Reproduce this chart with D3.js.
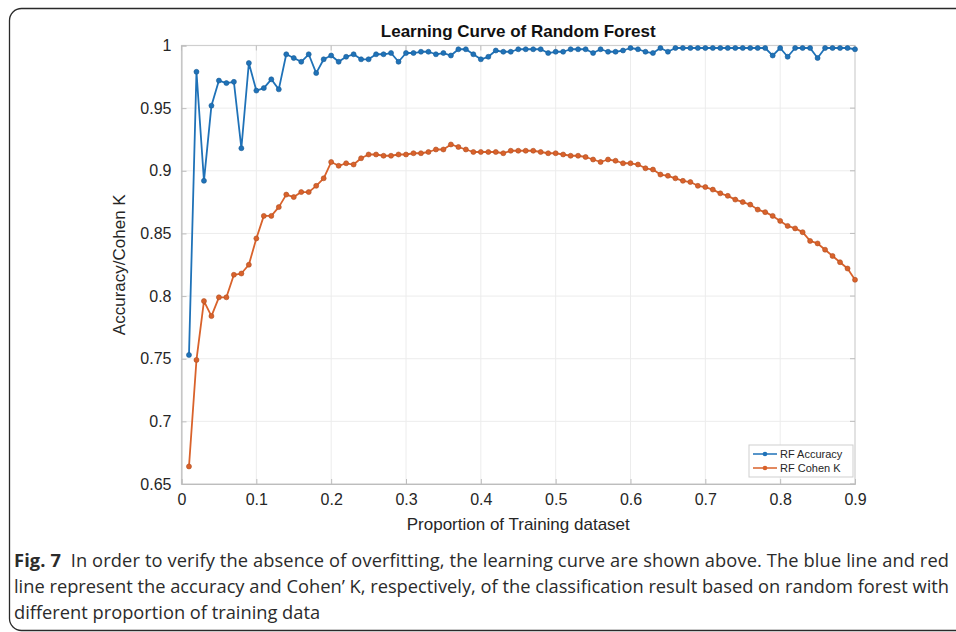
<!DOCTYPE html>
<html>
<head>
<meta charset="utf-8">
<script src="https://cdn.jsdelivr.net/npm/d3@7"></script>
<style>
html,body{margin:0;padding:0;background:#fff;}
svg{display:block;}
</style>
</head>
<body>
<svg id="chart" width="956" height="632"></svg>
<script>
const proportions = d3.range(1, 91).map(i => +(i / 100).toFixed(2));
const rfAccuracy = [
 0.753,0.979,0.892,0.952,0.972,0.970,0.971,0.918,0.986,0.964,
 0.966,0.973,0.965,0.993,0.990,0.987,0.993,0.978,0.989,0.992,
 0.987,0.991,0.993,0.989,0.989,0.993,0.993,0.994,0.987,0.994,
 0.994,0.995,0.995,0.993,0.994,0.992,0.997,0.997,0.993,0.989,
 0.991,0.996,0.995,0.995,0.997,0.997,0.997,0.997,0.994,0.995,
 0.995,0.997,0.997,0.997,0.994,0.997,0.995,0.995,0.996,0.998,
 0.997,0.995,0.994,0.998,0.995,0.998,0.998,0.998,0.998,0.998,
 0.998,0.998,0.998,0.998,0.998,0.998,0.998,0.998,0.992,0.998,
 0.991,0.998,0.998,0.998,0.990,0.998,0.998,0.998,0.998,0.997
];
const rfCohenK = [
 0.664,0.749,0.796,0.784,0.799,0.799,0.817,0.818,0.825,0.846,
 0.864,0.864,0.871,0.881,0.879,0.883,0.883,0.888,0.894,0.907,
 0.904,0.906,0.905,0.910,0.913,0.913,0.912,0.912,0.913,0.913,
 0.914,0.914,0.915,0.917,0.917,0.921,0.919,0.917,0.915,0.915,
 0.915,0.915,0.914,0.916,0.916,0.916,0.916,0.915,0.914,0.914,
 0.913,0.912,0.912,0.911,0.909,0.907,0.909,0.908,0.906,0.906,
 0.905,0.902,0.901,0.897,0.896,0.894,0.892,0.891,0.888,0.887,
 0.885,0.882,0.880,0.877,0.875,0.873,0.869,0.867,0.864,0.860,
 0.856,0.854,0.851,0.844,0.842,0.837,0.832,0.827,0.822,0.813
];
const xTicks = [0,0.1,0.2,0.3,0.4,0.5,0.6,0.7,0.8,0.9];
const yTicks = [0.65,0.7,0.75,0.8,0.85,0.9,0.95,1];
const seriesNames = ["RF Accuracy","RF Cohen K"];
const seriesColors = ["#1f72b8","#d9622b"];
const titleText = "Learning Curve of Random Forest";
const xLabel = "Proportion of Training dataset";
const yLabel = "Accuracy/Cohen K";
const captionLines = [
 ["Fig. 7", "  In order to verify the absence of overfitting, the learning curve are shown above. The blue line and red"],
 ["", "line represent the accuracy and Cohen\u2019 K, respectively, of the classification result based on random forest with"],
 ["", "different proportion of training data"]
];

const svg = d3.select("#chart");
const font = "'Liberation Sans', Arial, Helvetica, sans-serif";

// outer frame
svg.append("rect").attr("x",9.5).attr("y",8.5).attr("width",980).attr("height",622)
  .attr("rx",12).attr("ry",12).attr("fill","none").attr("stroke","#2a2a2a").attr("stroke-width",1.3);

const L = 181.5, R = 855, T = 45.5, B = 484;
const x = d3.scaleLinear().domain([0,0.9]).range([L,R]);
const y = d3.scaleLinear().domain([0.65,1]).range([B,T]);

const g = svg.append("g");
// grid
g.selectAll(".gx").data(xTicks.slice(1,-1)).join("line")
  .attr("x1",d=>x(d)).attr("x2",d=>x(d)).attr("y1",T).attr("y2",B)
  .attr("stroke","#ececec").attr("stroke-width",1);
g.selectAll(".gy").data(yTicks.slice(1,-1)).join("line")
  .attr("x1",L).attr("x2",R).attr("y1",d=>y(d)).attr("y2",d=>y(d))
  .attr("stroke","#ececec").attr("stroke-width",1);

// box
g.append("rect").attr("x",L).attr("y",T).attr("width",R-L).attr("height",B-T)
  .attr("fill","none").attr("stroke","#cfcfcf").attr("stroke-width",1.2);

// axes
const xAxis = d3.axisBottom(x).tickValues(xTicks).tickSize(-5).tickPadding(10)
  .tickFormat(d=>d3.format("~g")(d));
const yAxis = d3.axisLeft(y).tickValues(yTicks).tickSize(-5).tickPadding(10)
  .tickFormat(d=>d3.format("~g")(d));
const gx = svg.append("g").attr("transform",`translate(0,${B})`).call(xAxis);
const gy = svg.append("g").attr("transform",`translate(${L},0)`).call(yAxis);
[gx,gy].forEach(a=>{
  a.select(".domain").attr("stroke","#bdbdbd");
  a.selectAll(".tick line").attr("stroke","#bdbdbd");
  a.selectAll(".tick text").attr("fill","#262626").style("font-family",font).style("font-size","16px");
});
// top/right ticks
g.selectAll(".tr").data(yTicks).join("line")
  .attr("x1",R).attr("x2",R-5).attr("y1",d=>y(d)).attr("y2",d=>y(d)).attr("stroke","#bdbdbd");
g.selectAll(".tt").data(xTicks).join("line")
  .attr("x1",d=>x(d)).attr("x2",d=>x(d)).attr("y1",T).attr("y2",T+5).attr("stroke","#bdbdbd");

// series
const allSeries = [rfAccuracy, rfCohenK];
const line = d3.line().x((d,i)=>x(proportions[i])).y(d=>y(d));
allSeries.forEach((s,k)=>{
  svg.append("path").datum(s).attr("d",line).attr("fill","none")
    .attr("stroke",seriesColors[k]).attr("stroke-width",1.8).attr("stroke-linejoin","round");
  svg.append("g").selectAll("circle").data(s).join("circle")
    .attr("cx",(d,i)=>x(proportions[i])).attr("cy",d=>y(d)).attr("r",2.5)
    .attr("fill",seriesColors[k]).attr("stroke",d3.color(seriesColors[k]).darker(0.6)).attr("stroke-width",0.6);
});

// title & labels
svg.append("text").attr("x",(L+R)/2).attr("y",37).attr("text-anchor","middle")
  .style("font-family",font).style("font-weight","bold").style("font-size","17px").attr("fill","#111").text(titleText);
svg.append("text").attr("x",(L+R)/2).attr("y",530).attr("text-anchor","middle")
  .style("font-family",font).style("font-size","17px").attr("fill","#262626").text(xLabel);
svg.append("text").attr("transform",`translate(125,${(T+B)/2}) rotate(-90)`).attr("text-anchor","middle")
  .style("font-family",font).style("font-size","17px").attr("fill","#262626").text(yLabel);

// legend
const lg = svg.append("g").attr("transform","translate(749,445)");
lg.append("rect").attr("width",104).attr("height",32).attr("fill","#fff").attr("stroke","#cfcfcf");
seriesNames.forEach((n,k)=>{
  const yy = 9 + k*14;
  lg.append("line").attr("x1",4).attr("x2",28).attr("y1",yy).attr("y2",yy).attr("stroke",seriesColors[k]).attr("stroke-width",1.5);
  lg.append("circle").attr("cx",16).attr("cy",yy).attr("r",2.3).attr("fill",seriesColors[k]);
  lg.append("text").attr("x",31).attr("y",yy+4).style("font-family",font).style("font-size","11px")
    .attr("fill","#262626").text(n);
});

// caption
const capFont = "'Open Sans','Noto Sans',sans-serif";
const capTexts = captionLines.map((ln,i)=>{
  const t = svg.append("text").attr("x",14).attr("y",567 + i*26)
    .style("font-family",capFont).style("font-size","18px").attr("fill","#2b2b2b").attr("xml:space","preserve");
  if (ln[0]) t.append("tspan").style("font-weight","bold").text(ln[0]);
  t.append("tspan").text(ln[1]);
  return t;
});
// fit font size so the first two lines span to the right edge as in the reference
const w1 = capTexts[0].node().getComputedTextLength();
const w2 = capTexts[1].node().getComputedTextLength();
const fs = Math.min(18 * 935 / w1, 18 * 935 / w2);
capTexts.forEach(t=>t.style("font-size", fs.toFixed(2)+"px"));
[0,1].forEach(i=>capTexts[i].attr("textLength",935).attr("lengthAdjust","spacing"));
</script>
</body>
</html>
